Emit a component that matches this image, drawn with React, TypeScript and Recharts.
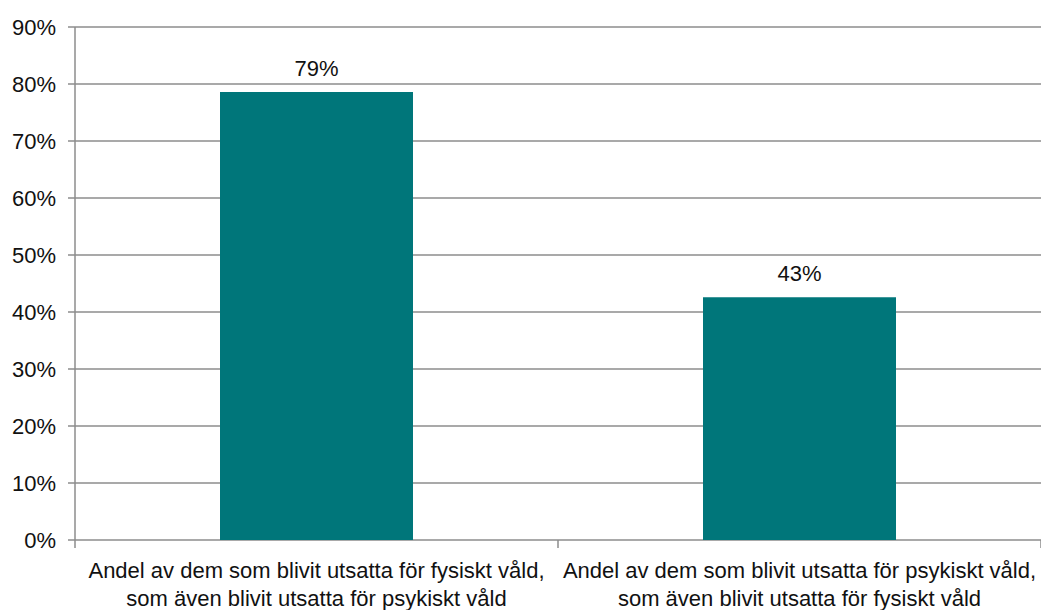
import React from 'react';
import { BarChart, Bar, XAxis, YAxis, CartesianGrid, LabelList } from 'recharts';

const categories = [
  ['Andel av dem som blivit utsatta för fysiskt våld,', 'som även blivit utsatta för psykiskt våld'],
  ['Andel av dem som blivit utsatta för psykiskt våld,', 'som även blivit utsatta för fysiskt våld'],
];
const shares = [78.6, 42.6];
const valueLabels = ['79%', '43%'];
const yTicks = [0, 10, 20, 30, 40, 50, 60, 70, 80, 90];

const data = categories.map((lines, i) => ({
  name: lines.join(' '),
  lines,
  value: shares[i],
  label: valueLabels[i],
}));

const FONT = '"Liberation Sans", Arial, sans-serif';
const GRID = '#8c8c8c';

// two-line category label, plus tick marks at the category edges
const CategoryTick = (props: any) => {
  const { x, y, index, payload } = props;
  const lines = data[index]?.lines ?? [];
  const half = payload?.offset ?? 0;
  const last = index === data.length - 1;
  return (
    <g>
      <line x1={x - half} x2={x - half} y1={y} y2={y + 8} stroke={GRID} strokeWidth={1.5} />
      {last && <line x1={x + half} x2={x + half} y1={y} y2={y + 8} stroke={GRID} strokeWidth={1.5} />}
      {lines.map((line: string, i: number) => (
        <text key={i} x={x} y={y + 38 + i * 28} textAnchor="middle" fontSize={22} fill="#111" fontFamily={FONT}>
          {line}
        </text>
      ))}
    </g>
  );
};

export default function App() {
  return (
    <div style={{ position: 'absolute', left: 0, top: 0, background: '#fff' }}>
      <BarChart width={1041} height={610} data={data} margin={{ top: 27, right: 0, left: 0, bottom: 0 }}>
        <CartesianGrid vertical={false} stroke={GRID} strokeWidth={1.5} />
        <XAxis
          dataKey="name"
          interval={0}
          axisLine={false}
          tickLine={false}
          tickSize={0}
          tickMargin={0}
          tick={<CategoryTick />}
          height={70}
        />
        <YAxis
          domain={[0, 90]}
          ticks={yTicks}
          interval={0}
          width={75}
          tickFormatter={(v: number) => `${v}%`}
          tick={{ fontSize: 22, fill: '#111', fontFamily: FONT }}
          tickLine={{ stroke: GRID, strokeWidth: 1.5 }}
          tickSize={7}
          tickMargin={12}
          axisLine={{ stroke: GRID, strokeWidth: 1.5 }}
        />
        <Bar dataKey="value" fill="#00767a" barSize={193} isAnimationActive={false}>
          <LabelList dataKey="label" position="top" offset={16} style={{ fontSize: 22, fill: '#111', fontFamily: FONT }} />
        </Bar>
      </BarChart>
    </div>
  );
}
